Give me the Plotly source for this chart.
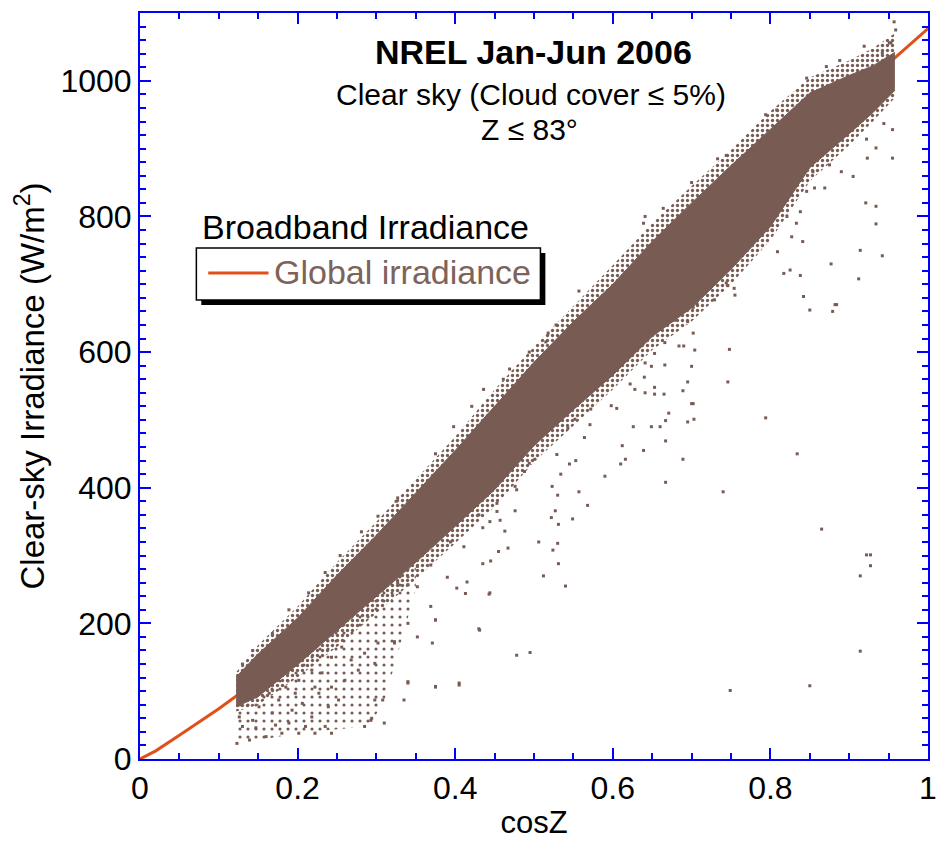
import plotly.graph_objects as go

# ---------------- data ----------------
# fitted global irradiance curve (orange)
fit_x = [0, 0.02, 0.05, 0.08, 0.10, 0.12, 0.16, 0.20, 0.25, 0.30, 0.35, 0.40, 0.45,
         0.50, 0.55, 0.60, 0.65, 0.70, 0.75, 0.80, 0.85, 0.90, 0.959, 1.0]
fit_y = [0, 12, 35, 58, 74, 91, 130, 170, 228, 286, 348, 413, 472,
         536, 592, 652, 702, 760, 810, 863, 918, 972, 1035, 1077]

# envelope of the dense cloud of clear-sky measurements
band_x = [0.122, 0.15, 0.2, 0.25, 0.3, 0.35, 0.4, 0.45, 0.5, 0.55, 0.6, 0.65, 0.7,
          0.75, 0.8, 0.85, 0.9, 0.93, 0.958]
band_upper = [121, 155, 208, 271, 330, 393, 455, 520, 585, 645, 700, 763, 820,
              875, 928, 982, 1008, 1022, 1042]
band_lower = [77, 92, 139, 189, 240, 290, 343, 397, 462, 515, 566, 623, 665,
              722, 785, 872, 922, 953, 986]
# sparser fringe of points around the dense band
fringe_top = [128, 168, 225, 290, 350, 412, 475, 545, 608, 668, 728, 790, 845,
              898, 955, 1005, 1030, 1048, 1070]
fringe_bottom = [70, 80, 120, 165, 215, 265, 318, 372, 438, 492, 545, 603, 645,
                 700, 765, 852, 905, 940, 975]
# sparse low-irradiance fan below the band at small cosZ
fan_x = [0.122, 0.15, 0.2, 0.25, 0.29, 0.31, 0.35]
fan_bottom = [22, 28, 38, 44, 48, 85, 250]
fan_top = [77, 92, 139, 189, 229, 250, 290]

# individual scattered measurements outside the dense band
out_pts = [
    (0.123, 23), (0.139, 28), (0.160, 33), (0.180, 38), (0.2015, 38), (0.222, 38), (0.243, 38),
    (0.126, 62), (0.143, 57), (0.151, 77), (0.168, 68), (0.176, 87), (0.193, 72), (0.206, 82),
    (0.218, 62), (0.227, 97), (0.239, 77), (0.243, 106), (0.252, 87), (0.260, 116), (0.268, 146),
    (0.277, 131), (0.285, 156), (0.293, 57), (0.310, 53), (0.298, 87), (0.302, 171), (0.323, 171),
    (0.340, 200), (0.340, 112), (0.335, 87), (0.375, 106), (0.405, 109), (0.371, 171), (0.375, 205),
    (0.352, 180), (0.431, 190), (0.444, 245), (0.415, 261), (0.369, 286), (0.390, 268), (0.327, 260),
    (0.352, 254), (0.130, 48), (0.147, 46), (0.172, 50), (0.189, 53), (0.210, 48), (0.235, 48),
    (0.164, 97), (0.185, 106), (0.2015, 116), (0.218, 131), (0.197, 97), (0.231, 127), (0.243, 150),
    (0.256, 165), (0.222, 106), (0.135, 87), (0.143, 97),
    (0.850, 662), (0.882, 670), (0.879, 660), (0.748, 604), (0.746, 556), (0.794, 503), (0.834, 450),
    (0.740, 394), (0.865, 339), (0.922, 301), (0.927, 301), (0.927, 285), (0.914, 270), (0.914, 159),
    (0.850, 108), (0.749, 101), (0.430, 192), (0.478, 153), (0.495, 157), (0.443, 243), (0.540, 255),
    (0.512, 270), (0.531, 288), (0.524, 308), (0.530, 318), (0.506, 320), (0.467, 311), (0.435, 288),
    (0.445, 292), (0.455, 306), (0.463, 336), (0.476, 366), (0.522, 356), (0.531, 346), (0.549, 354),
    (0.527, 366), (0.568, 374), (0.557, 394), (0.530, 389), (0.523, 402), (0.534, 420), (0.590, 417),
    (0.667, 408), (0.610, 435), (0.616, 442), (0.689, 442), (0.639, 455), (0.612, 462), (0.667, 469),
    (0.553, 440), (0.545, 435), (0.626, 490), (0.649, 490), (0.660, 490), (0.695, 497), (0.703, 501),
    (0.667, 499), (0.671, 510), (0.702, 524), (0.695, 556), (0.689, 543), (0.665, 538), (0.653, 548),
    (0.641, 540), (0.628, 545), (0.622, 553), (0.598, 521), (0.605, 517), (0.572, 516), (0.571, 493),
    (0.564, 474), (0.552, 501), (0.543, 488), (0.529, 449), (0.501, 442), (0.494, 436), (0.488, 424),
    (0.478, 397), (0.476, 402), (0.453, 365), (0.457, 352), (0.444, 350), (0.435, 341), (0.453, 377),
    (0.430, 360), (0.700, 524), (0.704, 603), (0.700, 579), (0.684, 609), (0.690, 609), (0.702, 628),
    (0.695, 645), (0.679, 647), (0.702, 666), (0.707, 671), (0.653, 598), (0.649, 579), (0.641, 584),
    (0.666, 581), (0.640, 563), (0.653, 538), (0.666, 614),
    (0.921, 820), (0.934, 815), (0.934, 789), (0.942, 742), (0.914, 750), (0.912, 708), (0.877, 730),
    (0.884, 670), (0.842, 682), (0.838, 713), (0.809, 748), (0.841, 763), (0.833, 790), (0.821, 800),
    (0.802, 780), (0.755, 684), (0.746, 698), (0.718, 694), (0.729, 677), (0.905, 859), (0.923, 886),
    (0.934, 901), (0.955, 886), (0.955, 928), (0.944, 937), (0.922, 914), (0.890, 866), (0.875, 876),
    (0.869, 842), (0.854, 866), (0.856, 842), (0.846, 837), (0.838, 807), (0.827, 770), (0.817, 716),
    (0.825, 721), (0.744, 702), (0.754, 694),
    (0.641, 800), (0.639, 790), (0.664, 812), (0.700, 850), (0.733, 885), (0.744, 890), (0.794, 950),
    (0.808, 957), (0.846, 1004), (0.871, 1021), (0.888, 1030), (0.919, 1051), (0.953, 1056),
    (0.957, 1087), (0.959, 1075), (0.951, 1056), (0.942, 1041), (0.528, 640), (0.518, 628),
    (0.515, 615), (0.557, 690), (0.469, 575), (0.461, 560), (0.436, 545), (0.421, 520), (0.398, 490),
    (0.375, 450), (0.327, 385), (0.494, 600), (0.325, 380), (0.302, 358), (0.281, 335), (0.254, 300),
    (0.235, 275), (0.214, 245), (0.189, 220), (0.168, 185), (0.143, 160), (0.130, 140),
    (0.340, 257), (0.369, 225), (0.375, 205), (0.402, 252), (0.413, 244), (0.411, 313), (0.394, 320),
    (0.352, 284), (0.340, 114), (0.375, 107), (0.405, 112), (0.308, 87), (0.323, 173), (0.298, 141),
    (0.294, 60), (0.285, 48),
]
out_x = [p[0] for p in out_pts]
out_y = [p[1] for p in out_pts]

x_ticks = [0, 0.2, 0.4, 0.6, 0.8, 1]
x_ticktext = ["0", "0.2", "0.4", "0.6", "0.8", "1"]
y_ticks = [0, 200, 400, 600, 800, 1000]

# ---------------- style ----------------
BROWN = "#785c53"
ORANGE = "#e0501a"
BLUE = "#0000ff"
FONT = "Liberation Sans, Arial, Helvetica, sans-serif"

W, H = 942, 841
L, R, T, B = 140, 937, 13, 759


def px(xp):
    return (xp - L) / (R - L)


def py(yp):
    return (B - yp) / (B - T)


fig = go.Figure()

fig.add_trace(go.Scatter(x=fit_x, y=fit_y, mode="lines",
                         line=dict(color=ORANGE, width=3),
                         name="Global irradiance", showlegend=False))

# sparse fan (dotted texture)
fig.add_trace(go.Scatter(x=fan_x, y=fan_bottom, mode="lines", line=dict(width=0),
                         showlegend=False, hoverinfo="skip"))
fig.add_trace(go.Scatter(x=fan_x, y=fan_top, mode="lines", line=dict(width=0),
                         fill="tonexty", fillcolor="rgba(0,0,0,0)",
                         fillpattern=dict(shape=".", fgcolor=BROWN, bgcolor="rgba(0,0,0,0)",
                                          size=8, solidity=0.12, fillmode="replace"),
                         showlegend=False, hoverinfo="skip"))

# fringe (dotted texture)
fig.add_trace(go.Scatter(x=band_x, y=fringe_bottom, mode="lines", line=dict(width=0),
                         showlegend=False, hoverinfo="skip"))
fig.add_trace(go.Scatter(x=band_x, y=fringe_top, mode="lines", line=dict(width=0),
                         fill="tonexty", fillcolor="rgba(0,0,0,0)",
                         fillpattern=dict(shape=".", fgcolor=BROWN, bgcolor="rgba(0,0,0,0)",
                                          size=5, solidity=0.35, fillmode="replace"),
                         showlegend=False, hoverinfo="skip"))

# dense band
fig.add_trace(go.Scatter(x=band_x, y=band_lower, mode="lines",
                         line=dict(color=BROWN, width=1), showlegend=False,
                         hoverinfo="skip"))
fig.add_trace(go.Scatter(x=band_x, y=band_upper, mode="lines",
                         line=dict(color=BROWN, width=1), fill="tonexty",
                         fillcolor=BROWN, showlegend=False, hoverinfo="skip"))

fig.add_trace(go.Scatter(x=out_x, y=out_y, mode="markers",
                         marker=dict(color=BROWN, size=3, symbol="square",
                                     line=dict(width=0)),
                         showlegend=False))

axis_common = dict(
    showline=True, linecolor=BLUE, linewidth=2, mirror="ticks",
    ticks="inside", tickcolor=BLUE, tickwidth=2, ticklen=11,
    showgrid=False, zeroline=False, ticklabeloverflow="allow",
    tickfont=dict(family=FONT, size=32, color="black"),
)

fig.update_xaxes(range=[0, 1], tickvals=x_ticks, ticktext=x_ticktext,
                 minor=dict(dtick=0.05, ticks="inside", ticklen=6, tickcolor=BLUE,
                            tickwidth=1.5, showgrid=False),
                 title=dict(text="cosZ", font=dict(family=FONT, size=31, color="black"),
                            standoff=6),
                 **axis_common)
fig.update_yaxes(range=[0, 1100], tickvals=y_ticks,
                 minor=dict(dtick=20, ticks="inside", ticklen=6, tickcolor=BLUE,
                            tickwidth=1.5, showgrid=False),
                 title=dict(text="Clear-sky Irradiance (W/m<sup>2</sup>)",
                            font=dict(family=FONT, size=33, color="black"), standoff=6),
                 **axis_common)

shapes = [
    dict(type="rect", xref="paper", yref="paper", x0=px(202), x1=px(550),
         y0=py(305), y1=py(253), fillcolor="black", line=dict(width=0), layer="above"),
    dict(type="rect", xref="paper", yref="paper", x0=px(197), x1=px(545),
         y0=py(300), y1=py(248), fillcolor="white", line=dict(color="black", width=1.5),
         layer="above"),
    dict(type="line", xref="paper", yref="paper", x0=px(209), x1=px(270),
         y0=py(273), y1=py(273), line=dict(color=ORANGE, width=3), layer="above"),
]

annotations = [
    dict(text="<b>NREL Jan-Jun 2006</b>", x=px(538), y=py(52), xref="paper", yref="paper",
         showarrow=False, xanchor="center", yanchor="middle",
         font=dict(family=FONT, size=34, color="black")),
    dict(text="Clear sky (Cloud cover ≤ 5%)", x=px(535), y=py(95), xref="paper", yref="paper",
         showarrow=False, xanchor="center", yanchor="middle",
         font=dict(family=FONT, size=30, color="black")),
    dict(text="Z ≤ 83°", x=px(534), y=py(129), xref="paper", yref="paper",
         showarrow=False, xanchor="center", yanchor="middle",
         font=dict(family=FONT, size=30, color="black")),
    dict(text="Broadband Irradiance", x=px(201), y=py(227), xref="paper", yref="paper",
         showarrow=False, xanchor="left", yanchor="middle",
         font=dict(family=FONT, size=34, color="black")),
    dict(text="Global irradiance", x=px(274), y=py(272), xref="paper", yref="paper",
         showarrow=False, xanchor="left", yanchor="middle",
         font=dict(family=FONT, size=34, color="#7d635b")),
]

fig.update_layout(
    width=W, height=H,
    margin=dict(l=L, r=W - R, t=T, b=H - B, pad=0),
    paper_bgcolor="white", plot_bgcolor="white",
    shapes=shapes, annotations=annotations,
    showlegend=False,
    font=dict(family=FONT),
)

fig.write_html("out.html")
